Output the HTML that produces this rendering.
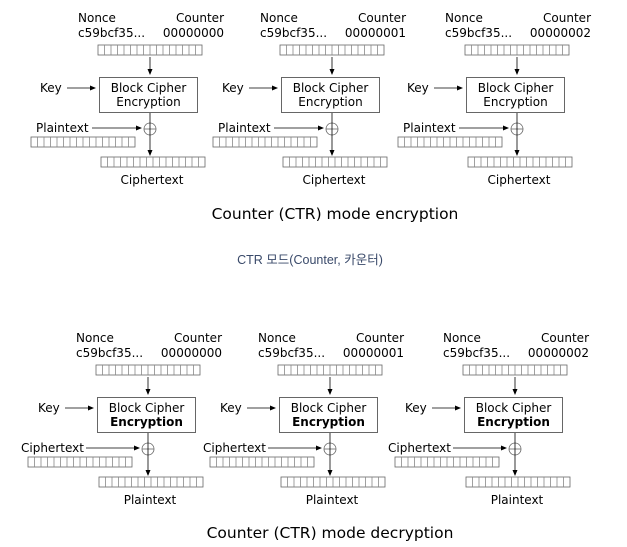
<!DOCTYPE html>
<html><head><meta charset="utf-8"><style>
html,body{margin:0;padding:0;background:#fff;width:627px;height:547px;overflow:hidden}
svg text{font-family:"DejaVu Sans","Liberation Sans",sans-serif;fill:#000}
</style></head><body>
<svg id="s" width="627" height="547" viewBox="0 0 627 547" xmlns="http://www.w3.org/2000/svg">
<defs><marker id="a" markerWidth="6" markerHeight="6" refX="5" refY="3" orient="auto" markerUnits="userSpaceOnUse"><path d="M0,0.5 L6,3 L0,5.5z" fill="#000"/></marker></defs>
<text x="335" y="219" font-size="15.5" text-anchor="middle">Counter (CTR) mode encryption</text>
<text x="310" y="264" font-size="12.5" text-anchor="middle" style="font-family:'Liberation Sans','Noto Sans CJK KR',sans-serif;fill:#3a4a6a">CTR 모드(Counter, 카운터)</text>
<text x="330" y="538" font-size="15.5" text-anchor="middle">Counter (CTR) mode decryption</text>
<g id="g"></g>
</svg>
<script>
var g=document.getElementById('g'),h='';
function bar(x,y){var s='<rect x="'+x+'" y="'+y+'" width="104" height="10" fill="none" stroke="#666" stroke-width="0.8"/>';for(var i=1;i<16;i++){var xx=x+i*6.5;s+='<line x1="'+xx+'" y1="'+y+'" x2="'+xx+'" y2="'+(y+10)+'" stroke="#888" stroke-width="0.8"/>';}return s;}
function unit(dx,dy,ctr,dec){
 var t='<g transform="translate('+dx+','+dy+')">';
 t+='<text x="78" y="22" font-size="12">Nonce</text><text x="224" y="22" font-size="12" text-anchor="end">Counter</text>';
 t+='<text x="78" y="37" font-size="12">c59bcf35...</text><text x="224" y="37" font-size="12" text-anchor="end">'+ctr+'</text>';
 t+=bar(98,45);
 t+='<line x1="150" y1="57" x2="150" y2="74" stroke="#000" stroke-width="0.8" marker-end="url(#a)"/>';
 t+='<rect x="99.5" y="77.5" width="98" height="35" fill="#fff" stroke="#666"/>';
 t+='<text x="148.5" y="92" font-size="12" text-anchor="middle">Block Cipher</text>';
 t+='<text x="148.5" y="106" font-size="12" text-anchor="middle"'+(dec?' font-weight="bold"':'')+'>Encryption</text>';
 t+='<text x="40" y="92" font-size="12">Key</text><line x1="67" y1="88" x2="95" y2="88" stroke="#000" stroke-width="0.8" marker-end="url(#a)"/>';
 var lab=dec?'Ciphertext':'Plaintext',lx=dec?23:36;
 t+='<text x="'+lx+'" y="132" font-size="12">'+lab+'</text><line x1="'+(dec?88:92)+'" y1="128" x2="141" y2="128" stroke="#000" stroke-width="0.8" marker-end="url(#a)"/>';
 t+='<circle cx="150" cy="129" r="6" fill="none" stroke="#666" stroke-width="0.8"/><line x1="144" y1="129" x2="156" y2="129" stroke="#666" stroke-width="0.8"/>';
 t+='<line x1="150" y1="113" x2="150" y2="155" stroke="#000" stroke-width="0.8" marker-end="url(#a)"/>';
 t+=bar(dec?30:31,137);
 t+=bar(101,157);
 t+='<text x="152" y="184" font-size="12" text-anchor="middle">'+(dec?'Plaintext':'Ciphertext')+'</text>';
 return t+'</g>';}
var c=['00000000','00000001','00000002'],o=[0,182,367];
for(var i=0;i<3;i++){h+=unit(o[i],0,c[i],false);h+=unit(o[i]-2,320,c[i],true);}
g.innerHTML=h;
</script>
</body></html>
